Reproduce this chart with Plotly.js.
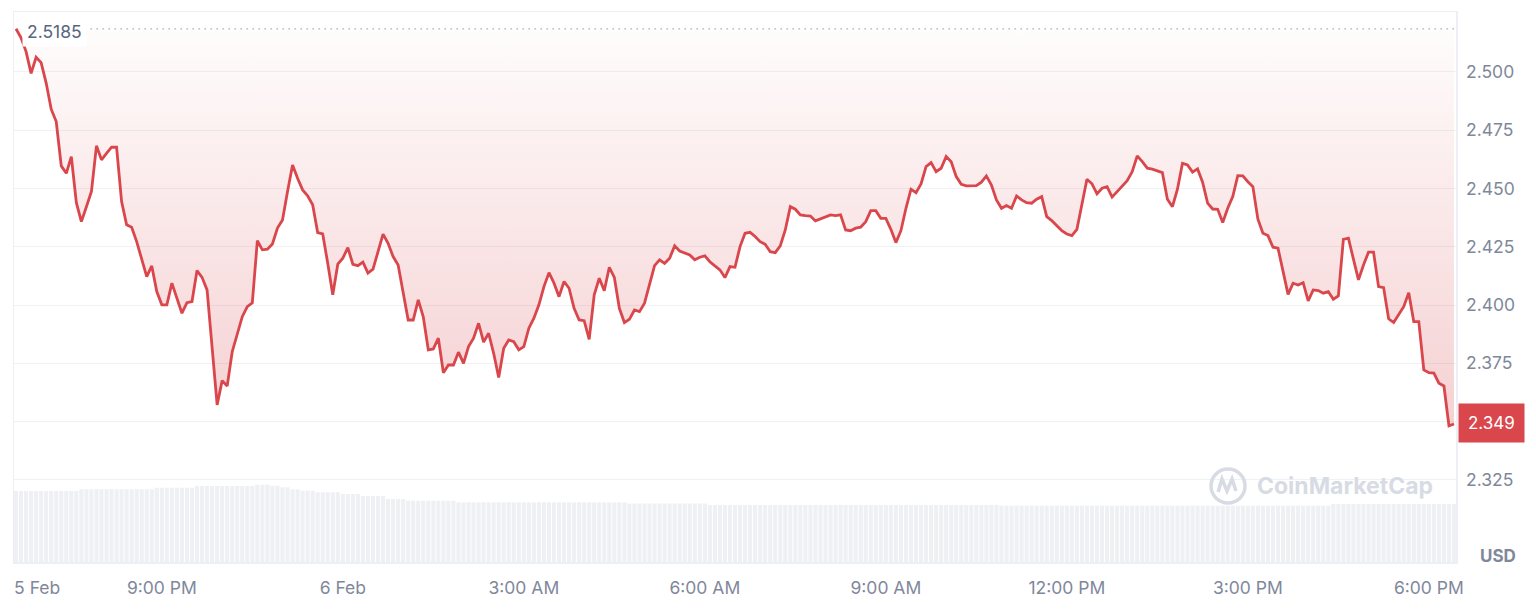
<!DOCTYPE html>
<html>
<head>
<meta charset="utf-8">
<script src="https://cdn.plot.ly/plotly-3.0.1.min.js"></script>
<style>
  html, body { margin: 0; padding: 0; background: #ffffff; }
  #chart { width: 1536px; height: 612px; }
</style>
</head>
<body>
<div id="chart"></div>
<script>
// ---- Data ----
const startTime = '2025-02-05T18:35:00Z';   // first 5‑minute sample
const stepMinutes = 5;

const prices = [
  2.5185, 2.5146, 2.5087, 2.4994, 2.5063, 2.5040, 2.4952, 2.4840, 2.4787, 2.4597,
  2.4565, 2.4637, 2.4439, 2.4358, 2.4422, 2.4487, 2.4683, 2.4623, 2.4651, 2.4677,
  2.4677, 2.4444, 2.4344, 2.4334, 2.4272, 2.4194, 2.4122, 2.4168, 2.4058, 2.4001,
  2.4001, 2.4094, 2.4029, 2.3965, 2.4010, 2.4015, 2.4148, 2.4119, 2.4065, 2.3822,
  2.3572, 2.3676, 2.3653, 2.3800, 2.3879, 2.3950, 2.3993, 2.4010, 2.4276, 2.4237,
  2.4240, 2.4262, 2.4330, 2.4365, 2.4487, 2.4601, 2.4544,
  2.4494, 2.4469, 2.4430, 2.4311, 2.4305, 2.4179, 2.4044, 2.4176, 2.4201, 2.4246,
  2.4175, 2.4169, 2.4184, 2.4137, 2.4154, 2.4229, 2.4304, 2.4265, 2.4208, 2.4172,
  2.4058, 2.3936, 2.3936, 2.4022, 2.3950, 2.3808, 2.3812, 2.3858, 2.3710, 2.3743,
  2.3743, 2.3798, 2.3750, 2.3822, 2.3858, 2.3922, 2.3841, 2.3879, 2.3793, 2.3689,
  2.3815, 2.3850, 2.3843, 2.3808, 2.3822, 2.3901, 2.3944, 2.4001, 2.4079, 2.4139,
  2.4094, 2.4036, 2.4101, 2.4072, 2.3986, 2.3936, 2.3933, 2.3853,
  2.4044, 2.4115, 2.4062, 2.4162, 2.4119, 2.3986, 2.3925, 2.3939, 2.3979, 2.3972,
  2.4008, 2.4086, 2.4169, 2.4194, 2.4179, 2.4201, 2.4254, 2.4232, 2.4222, 2.4215,
  2.4194, 2.4205, 2.4211, 2.4186, 2.4168, 2.4151, 2.4118, 2.4165, 2.4162, 2.4251,
  2.4308, 2.4312, 2.4294, 2.4272, 2.4261, 2.4229, 2.4225, 2.4254, 2.4322, 2.4422,
  2.4411, 2.4387, 2.4384, 2.4382, 2.4361, 2.4369, 2.4379, 2.4387, 2.4384, 2.4387,
  2.4322, 2.4319, 2.4330, 2.4334, 2.4358, 2.4405, 2.4405, 2.4372,
  2.4372, 2.4325, 2.4268, 2.4319, 2.4415, 2.4497, 2.4482, 2.4520, 2.4594, 2.4611,
  2.4572, 2.4587, 2.4637, 2.4615, 2.4551, 2.4518, 2.4511, 2.4512, 2.4512, 2.4527,
  2.4554, 2.4515, 2.4451, 2.4415, 2.4427, 2.4415, 2.4468, 2.4451, 2.4439, 2.4437,
  2.4454, 2.4465, 2.4379, 2.4362, 2.4339, 2.4319, 2.4305, 2.4298, 2.4325, 2.4437,
  2.4540, 2.4520, 2.4477, 2.4501, 2.4508, 2.4463, 2.4487, 2.4512, 2.4534, 2.4572,
  2.4640, 2.4615, 2.4587, 2.4583, 2.4575, 2.4568, 2.4454, 2.4422,
  2.4497, 2.4608, 2.4601, 2.4570, 2.4584, 2.4527, 2.4437, 2.4412, 2.4411, 2.4354,
  2.4415, 2.4465, 2.4555, 2.4554, 2.4529, 2.4508, 2.4368, 2.4308, 2.4298, 2.4248,
  2.4244, 2.4146, 2.4046, 2.4094, 2.4086, 2.4096, 2.4018, 2.4065, 2.4062, 2.4051,
  2.4058, 2.4025, 2.4039, 2.4282, 2.4287, 2.4197, 2.4108, 2.4172, 2.4227, 2.4227,
  2.4079, 2.4075, 2.3941, 2.3925, 2.3961, 2.3993, 2.4053, 2.3929, 2.3929, 2.3722,
  2.3710, 2.3708, 2.3665, 2.3653, 2.3482, 2.3490
];

// relative 24h volume level per sample (bar heights)
const volumes = [
  7.10, 7.10, 7.10, 7.10, 7.10, 7.10, 7.10, 7.10, 7.10, 7.10, 7.10, 7.10, 7.10,
  7.27, 7.27, 7.27, 7.27, 7.27, 7.27, 7.27, 7.27, 7.27, 7.27, 7.27, 7.27, 7.27, 7.27, 7.27,
  7.43, 7.43, 7.43, 7.43, 7.43, 7.43, 7.43, 7.43,
  7.60, 7.60, 7.60, 7.60, 7.60, 7.60, 7.60, 7.60, 7.60, 7.60, 7.60, 7.60,
  7.73, 7.73, 7.73, 7.63, 7.63, 7.47, 7.47, 7.27, 7.27, 7.13, 7.13, 7.13,
  6.97, 6.97, 6.97, 6.97, 6.97, 6.80, 6.80, 6.80, 6.80,
  6.60, 6.60, 6.60, 6.60, 6.60, 6.30, 6.30, 6.30, 6.30,
  6.13, 6.13, 6.13, 6.13, 6.13, 6.13, 6.13, 6.13, 6.13, 6.13,
  5.97, 5.97, 5.97, 5.97, 5.97, 5.97, 5.97, 5.97, 5.97, 5.97,
  5.97, 5.97, 5.97, 5.97, 5.97, 5.97, 5.97, 5.97, 5.97, 5.97,
  5.97, 5.97, 5.97, 5.97, 5.97, 5.97, 5.97, 5.97, 5.97, 5.97,
  5.97, 5.97, 5.97, 5.97,
  5.85, 5.85, 5.85, 5.85, 5.85, 5.85, 5.85, 5.85, 5.85, 5.85, 5.85, 5.85, 5.85, 5.85, 5.85, 5.85,
  5.70, 5.70, 5.70, 5.70, 5.70, 5.70, 5.70, 5.70, 5.70, 5.70,
  5.70, 5.70, 5.70, 5.70, 5.70, 5.70, 5.70, 5.70, 5.70, 5.70,
  5.70, 5.70, 5.70, 5.70, 5.70, 5.70, 5.70, 5.70, 5.70, 5.70,
  5.70, 5.70, 5.70, 5.70, 5.70, 5.70, 5.70, 5.70, 5.70, 5.70,
  5.70, 5.70, 5.70, 5.70, 5.70, 5.70, 5.70, 5.70, 5.70, 5.70,
  5.70, 5.70, 5.70, 5.70, 5.70, 5.70, 5.70, 5.70,
  5.63, 5.63, 5.63, 5.63, 5.63, 5.63, 5.63, 5.63, 5.63, 5.63,
  5.63, 5.63, 5.63, 5.63, 5.63, 5.63, 5.63, 5.63, 5.63, 5.63,
  5.63, 5.63, 5.63, 5.63, 5.63, 5.63, 5.63, 5.63, 5.63, 5.63,
  5.63, 5.63, 5.63, 5.63, 5.63, 5.63, 5.63, 5.63, 5.63, 5.63,
  5.63, 5.63, 5.63, 5.63, 5.63, 5.63, 5.63, 5.63, 5.63, 5.63,
  5.63, 5.63, 5.63, 5.63, 5.63, 5.63, 5.63, 5.63, 5.63, 5.63,
  5.63, 5.63, 5.63, 5.63, 5.63, 5.63,
  5.80, 5.80, 5.80, 5.80, 5.80, 5.80, 5.80, 5.80, 5.80, 5.80,
  5.80, 5.80, 5.80, 5.80, 5.80, 5.80, 5.80, 5.80, 5.80, 5.80,
  5.80, 5.80, 5.80, 5.80, 5.80
];

const openPrice = 2.5185;
const openLabel = '2.5185';
const lastLabel = '2.349';

const xTickVals = ['2025-02-05 18:56', '2025-02-05 21:00', '2025-02-06 00:00', '2025-02-06 03:00',
                   '2025-02-06 06:00', '2025-02-06 09:00', '2025-02-06 12:00', '2025-02-06 15:00',
                   '2025-02-06 18:00'];
const xTickText = ['5 Feb', '9:00 PM', '6 Feb', '3:00 AM', '6:00 AM', '9:00 AM', '12:00 PM', '3:00 PM', '6:00 PM'];
const yTickVals = [2.325, 2.350, 2.375, 2.400, 2.425, 2.450, 2.475, 2.500];
const yTickText = ['2.325', '2.350', '2.375', '2.400', '2.425', '2.450', '2.475', '2.500'];

// ---- build time stamps for the 5-minute samples ----
function fmt(d) {
  const p = n => String(n).padStart(2, '0');
  return d.getUTCFullYear() + '-' + p(d.getUTCMonth() + 1) + '-' + p(d.getUTCDate()) + ' ' +
         p(d.getUTCHours()) + ':' + p(d.getUTCMinutes());
}
const t0 = Date.parse(startTime);
const times = prices.map((_, i) => fmt(new Date(t0 + i * stepMinutes * 60000)));

const RED = '#d9464b';
const FONT = 'Inter, "Noto Sans", "DejaVu Sans", sans-serif';
const GREY = '#7f889b';
const pMin = Math.min(...prices);

const traces = [
  {
    type: 'bar', x: times, y: volumes, yaxis: 'y2',
    marker: { color: '#eef0f4', line: { width: 0 } },
    hoverinfo: 'skip'
  },
  {
    type: 'scatter', mode: 'lines', x: [times[0], times[times.length - 1]], y: [openPrice, openPrice],
    line: { width: 0, color: 'rgba(0,0,0,0)' }, hoverinfo: 'skip'
  },
  {
    type: 'scatter', mode: 'lines', x: times, y: prices,
    line: { color: RED, width: 2.8, shape: 'linear' },
    fill: 'tonexty',
    fillgradient: {
      type: 'vertical', start: pMin, stop: openPrice,
      colorscale: [[0, 'rgba(217,70,75,0.25)'], [1, 'rgba(217,70,75,0.015)']]
    },
    hoverinfo: 'skip'
  }
];

const layout = {
  width: 1536, height: 612,
  margin: { l: 14, r: 80, t: 12, b: 50 },
  paper_bgcolor: '#ffffff', plot_bgcolor: '#ffffff',
  showlegend: false, bargap: 0.18,
  font: { family: FONT, color: GREY },
  xaxis: {
    type: 'date',
    range: ['2025-02-05 18:33', '2025-02-06 18:27'],
    tickmode: 'array', tickvals: xTickVals, ticktext: xTickText,
    tickfont: { size: 17.5, color: GREY, family: FONT },
    showgrid: false, zeroline: false,
    showline: true, mirror: true, linecolor: '#eceff3', linewidth: 1.5,
    ticks: '', ticklabelstandoff: 9, fixedrange: true
  },
  yaxis: {
    range: [2.2898, 2.5257], side: 'right',
    tickmode: 'array', tickvals: yTickVals, ticktext: yTickText,
    tickfont: { size: 17.5, color: GREY, family: FONT },
    showgrid: true, gridcolor: '#eff1f5', gridwidth: 1, zeroline: false,
    showline: true, mirror: true, linecolor: '#eceff3', linewidth: 1.5,
    ticks: '', ticklabelstandoff: 5, fixedrange: true
  },
  yaxis2: { overlaying: 'y', range: [0, 55], visible: false, fixedrange: true },
  shapes: [
    { type: 'line', xref: 'paper', yref: 'y', x0: 0.053, x1: 1, y0: openPrice, y1: openPrice,
      line: { color: '#a3abb8', width: 1.2, dash: '1.5px,4.5px' } },
    // watermark logo
    { type: 'circle', xref: 'paper', yref: 'paper', x0: 0.8301, x1: 0.8537, y0: 0.1073, y1: 0.1691,
      line: { color: '#d7dbe3', width: 3.5 } },
    { type: 'path', xref: 'paper', yref: 'paper',
      path: 'M 0.8350,0.1273 L 0.8377,0.1509 L 0.8412,0.1291 L 0.8447,0.1509 L 0.8474,0.1291',
      line: { color: '#d7dbe3', width: 3.5 } }
  ],
  annotations: [
    { xref: 'paper', yref: 'y', x: 0.0055, y: openPrice, xanchor: 'left', yanchor: 'middle',
      yshift: -3, text: openLabel, showarrow: false, bgcolor: '#ffffff', borderpad: 4,
      font: { size: 17.5, color: '#58667e', family: FONT } },
    { xref: 'paper', yref: 'y', x: 1, y: prices[prices.length - 1], xanchor: 'left', yanchor: 'middle',
      xshift: 2, yshift: 1, text: lastLabel, showarrow: false, bgcolor: RED, borderpad: 9,
      font: { size: 17, color: '#ffffff', family: FONT } },
    { xref: 'paper', yref: 'paper', x: 1.0430, y: 0.0109, xanchor: 'right', yanchor: 'middle',
      text: '<b>USD</b>', showarrow: false, font: { size: 17, color: GREY, family: FONT } },
    { xref: 'paper', yref: 'paper', x: 0.923, y: 0.138, xanchor: 'center', yanchor: 'middle',
      text: '<b>CoinMarketCap</b>', showarrow: false, font: { size: 23, color: '#d7dbe3', family: FONT } }
  ]
};

Plotly.newPlot('chart', traces, layout, { displayModeBar: false, staticPlot: true });
</script>
</body>
</html>
